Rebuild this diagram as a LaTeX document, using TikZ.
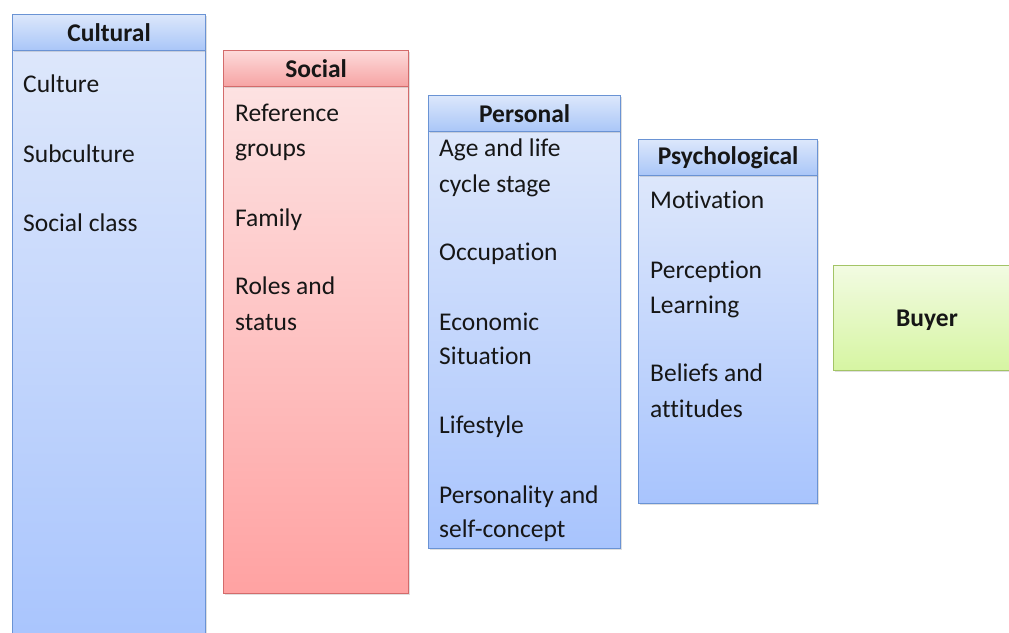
\documentclass[tikz,border=0pt]{standalone}
\usepackage{fontspec}
\setmainfont{Carlito}[Ligatures=NoCommon]
\usetikzlibrary{shadows}
\definecolor{blueline}{HTML}{6A93D4}
\definecolor{bluetop}{HTML}{DDE7FB}
\definecolor{bluebot}{HTML}{A8C4FD}
\definecolor{bluehtop}{HTML}{DCE7FB}
\definecolor{bluehbot}{HTML}{A9C6F8}
\definecolor{redline}{HTML}{D36B6B}
\definecolor{redtop}{HTML}{FDE2E2}
\definecolor{redbot}{HTML}{FFA2A2}
\definecolor{redhtop}{HTML}{FDDADA}
\definecolor{redhbot}{HTML}{F6A3A3}
\definecolor{greenline}{HTML}{A3C466}
\definecolor{greentop}{HTML}{F2FBE2}
\definecolor{greenbot}{HTML}{D6F5A2}
\definecolor{textcol}{HTML}{161616}
\tikzset{
  boxbase/.style={rectangle, inner sep=0pt, line width=1.2pt, anchor=north west,
    drop shadow={shadow xshift=1.2pt, shadow yshift=-1.5pt, opacity=0.25}},
  headfont/.style={font=\fontsize{25.5}{30}\selectfont\bfseries, text=textcol},
  bluebody/.style={boxbase, draw=blueline, top color=bluetop, bottom color=bluebot},
  bluehead/.style={boxbase, draw=blueline, top color=bluehtop, bottom color=bluehbot, headfont},
  redbody/.style={boxbase, draw=redline, top color=redtop, bottom color=redbot},
  redhead/.style={boxbase, draw=redline, top color=redhtop, bottom color=redhbot, headfont},
  greenbox/.style={boxbase, draw=greenline, top color=greentop, bottom color=greenbot},
  item/.style={anchor=base west, inner sep=0pt, text=textcol,
    font=\fontsize{25.5}{30}\selectfont}
}
\begin{document}
\begin{tikzpicture}[x=1pt,y=-1pt]
  \clip (0,0) rectangle (1009,632);
  \fill[white] (0,0) rectangle (1009,632);

  % Cultural factors
  \node[bluebody, minimum width=193pt, minimum height=600pt] (culB) at (12,50) {};
  \node[bluehead, minimum width=193pt, minimum height=36pt] (culH) at (12,14) {Cultural};
  \node[item] (cul1) at (23,92) {Culture};
  \node[item] (cul2) at (23,162) {Subculture};
  \node[item] (cul3) at (23,231) {Social class};

  % Social factors
  \node[redbody, minimum width=185pt, minimum height=507pt] (socB) at (223,86) {};
  \node[redhead, minimum width=185pt, minimum height=36pt] (socH) at (223,50) {Social};
  \node[item] (soc1) at (235,121) {Reference};
  \node[item] (soc2) at (235,156) {groups};
  \node[item] (soc3) at (235,226) {Family};
  \node[item] (soc4) at (235,294) {Roles and};
  \node[item] (soc5) at (235,330) {status};

  % Personal factors
  \node[bluebody, minimum width=192pt, minimum height=417pt] (perB) at (428,131) {};
  \node[bluehead, minimum width=192pt, minimum height=36pt] (perH) at (428,95) {Personal};
  \node[item] (per1) at (439,156) {Age and life};
  \node[item] (per2) at (439,192) {cycle stage};
  \node[item] (per3) at (439,260) {Occupation};
  \node[item] (per4) at (439,330) {Economic};
  \node[item] (per5) at (439,364) {Situation};
  \node[item] (per6) at (439,433) {Lifestyle};
  \node[item] (per7) at (439,503) {Personality and};
  \node[item] (per8) at (439,537) {self-concept};

  % Psychological factors
  \node[bluebody, minimum width=179pt, minimum height=328pt] (psyB) at (638,175) {};
  \node[bluehead, minimum width=179pt, minimum height=36pt] (psyH) at (638,139) {Psychological};
  \node[item] (psy1) at (650,208) {Motivation};
  \node[item] (psy2) at (650,278) {Perception};
  \node[item] (psy3) at (650,313) {Learning};
  \node[item] (psy4) at (650,381) {Beliefs and};
  \node[item] (psy5) at (650,417) {attitudes};

  % Buyer
  \node[greenbox, minimum width=190pt, minimum height=105pt] (buyer) at (833,265) {};
  \node[anchor=base, inner sep=0pt, headfont] (buyerT) at (927,326) {Buyer};
\end{tikzpicture}
\end{document}
